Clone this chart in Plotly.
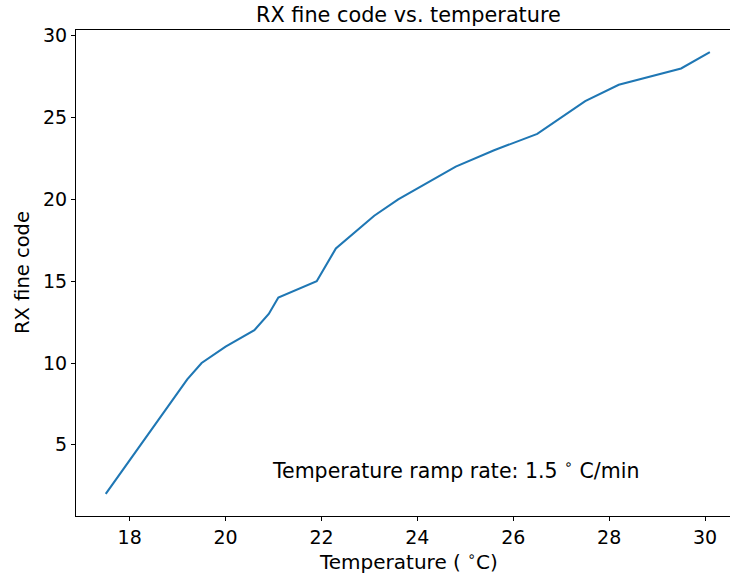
import plotly.graph_objects as go

temperature = [17.5, 19.2, 19.5, 20.0, 20.6, 20.9, 21.1, 21.9, 22.3, 23.1, 23.6,
               24.8, 25.6, 26.5, 27.5, 28.2, 29.5, 30.1]
fine_code = [2, 9, 10, 11, 12, 13, 14, 15, 17, 19, 20,
             22, 23, 24, 26, 27, 28, 29]
x_ticks = [18, 20, 22, 24, 26, 28, 30]
y_ticks = [5, 10, 15, 20, 25, 30]

FONT = "DejaVu Sans"
fig = go.Figure()
fig.add_trace(go.Scatter(x=temperature, y=fine_code, mode="lines",
                         line=dict(color="#1f77b4", width=2.1), showlegend=False))

fig.update_layout(
    width=730, height=573,
    margin=dict(l=76, r=0, t=30, b=57),
    paper_bgcolor="white", plot_bgcolor="white",
    font=dict(family=FONT, size=19, color="black"),
    xaxis=dict(range=[16.88, 30.52], tickvals=x_ticks, ticks="outside", ticklen=4,
               tickcolor="black", showgrid=False, zeroline=False, automargin=False,
               showline=True, linecolor="black", linewidth=1, mirror=True,
               tickfont=dict(size=19)),
    yaxis=dict(range=[0.65, 30.35], tickvals=y_ticks, ticks="outside", ticklen=4,
               tickcolor="black", showgrid=False, zeroline=False, automargin=False,
               showline=True, linecolor="black", linewidth=1,
               tickfont=dict(size=19)),
    annotations=[
        dict(text="RX fine code vs. temperature", xref="paper", yref="paper",
             x=0.508, y=1.0, yshift=15, xanchor="center", yanchor="middle",
             showarrow=False, font=dict(size=20.8)),
        dict(text="Temperature ramp rate: 1.5 <sup>∘</sup> C/min", xref="x", yref="y",
             x=20.92, y=3.52, xanchor="left", yanchor="middle",
             showarrow=False, font=dict(size=20.5)),
        dict(text="Temperature ( <sup>∘</sup>C)", xref="paper", yref="paper",
             x=0.508, y=0, yshift=-45, xanchor="center", yanchor="middle",
             showarrow=False, font=dict(size=20)),
        dict(text="RX fine code", xref="paper", yref="paper", textangle=-90,
             x=0, xshift=-54, y=0.5, xanchor="center", yanchor="middle",
             showarrow=False, font=dict(size=19.5)),
    ],
)
fig.write_html("out.html", config={"displayModeBar": False},
               post_script="document.body.style.margin='0';document.body.style.overflow='hidden';")
